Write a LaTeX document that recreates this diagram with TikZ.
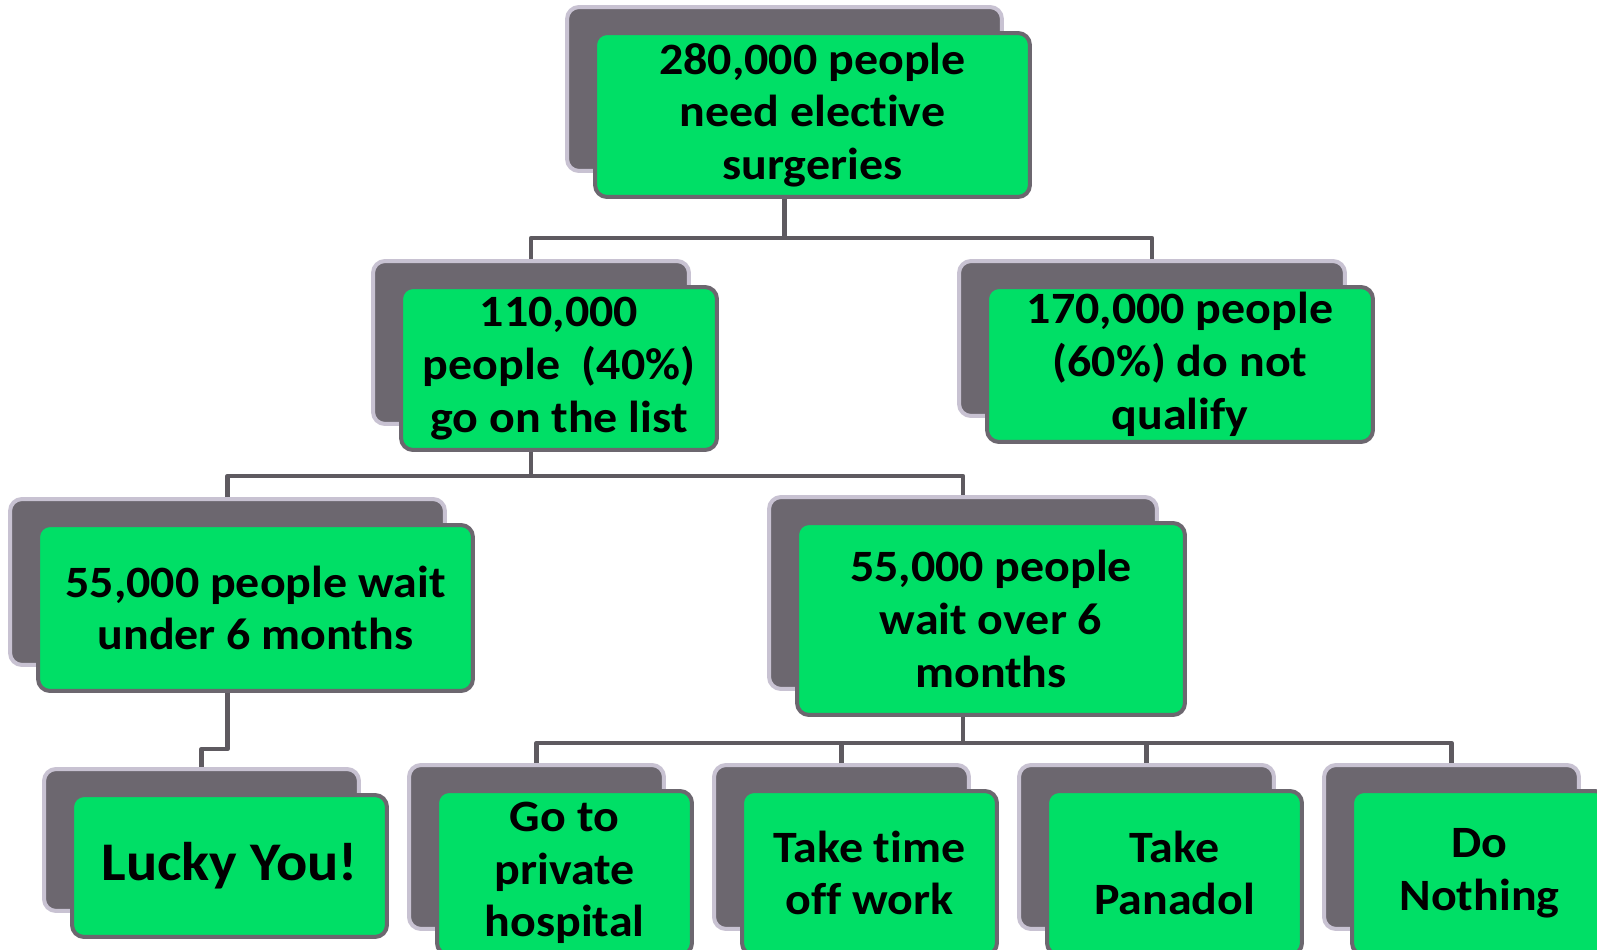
\documentclass[tikz,border=0pt]{standalone}
\usepackage{fontspec}
\setmainfont{Carlito}[FakeStretch=1.07, Ligatures=NoCommon]
\usepackage{tikz}
\usetikzlibrary{positioning}
\definecolor{boxgreen}{RGB}{0,223,102}
\definecolor{shadegray}{RGB}{108,103,111}
\definecolor{shadeedge}{RGB}{200,194,210}
\definecolor{linkgray}{RGB}{94,90,96}

\begin{document}
\begin{tikzpicture}[x=0.02cm, y=-0.02cm,
        backbox/.style={draw=shadeedge, fill=shadegray, line width=0.08cm, rounded corners=0.24cm, inner sep=0pt},
        frontbox/.style={draw=shadegray, fill=boxgreen, line width=0.08cm, rounded corners=0.24cm, inner sep=0pt, align=center,
          font=\fontsize{25.5pt}{30pt}\selectfont\bfseries},
        link/.style={draw=linkgray, line width=0.09cm, line join=round}
      ]
      \useasboundingbox (0,0) rectangle (1597,950);

      % level 1
      \node[backbox, minimum width=8.7cm, minimum height=3.28cm] (topsh) at (784.5,89) {};
      \node[frontbox, minimum width=8.7cm, minimum height=3.28cm] (top) at ([shift={(28,26)}]topsh.center) {280,000 people\\need elective\\surgeries};

      % level 2
      \node[backbox, minimum width=6.32cm, minimum height=3.26cm] (listsh) at (531,342.5) {};
      \node[frontbox, minimum width=6.32cm, minimum height=3.26cm] (list) at ([shift={(28,26)}]listsh.center) {110,000\\people~~(40\%)\\go on the list};
      \node[backbox, minimum width=7.72cm, minimum height=3.1cm] (noqualsh) at (1152,338.5) {};
      \node[frontbox, minimum width=7.72cm, minimum height=3.1cm] (noqual) at ([shift={(28,26)}]noqualsh.center) {170,000 people\\(60\%) do not\\qualify};

      % level 3
      \node[backbox, minimum width=8.7cm, minimum height=3.32cm] (undersh) at (227.5,582) {};
      \node[frontbox, minimum width=8.7cm, minimum height=3.32cm] (under) at ([shift={(28,26)}]undersh.center) {55,000 people wait\\under 6 months};
      \node[backbox, minimum width=7.76cm, minimum height=3.84cm] (oversh) at (963,593) {};
      \node[frontbox, minimum width=7.76cm, minimum height=3.84cm] (over) at ([shift={(28,26)}]oversh.center) {55,000 people\\wait over 6\\months};

      % level 4
      \node[backbox, minimum width=6.3cm, minimum height=2.84cm] (luckysh) at (201.5,840) {};
      \node[frontbox, minimum width=6.3cm, minimum height=2.84cm, font=\fontsize{31pt}{36pt}\selectfont\bfseries] (lucky) at ([shift={(28,26)}]luckysh.center) {Lucky You!};
      \node[backbox, minimum width=5.1cm, minimum height=3.28cm] (privsh) at (536.5,847) {};
      \node[frontbox, minimum width=5.1cm, minimum height=3.28cm] (priv) at ([shift={(28,26)}]privsh.center) {Go to\\private\\hospital};
      \node[backbox, minimum width=5.1cm, minimum height=3.28cm] (timeoffsh) at (841.5,847) {};
      \node[frontbox, minimum width=5.1cm, minimum height=3.28cm] (timeoff) at ([shift={(28,26)}]timeoffsh.center) {Take time\\off work};
      \node[backbox, minimum width=5.1cm, minimum height=3.28cm] (panadolsh) at (1146.5,847) {};
      \node[frontbox, minimum width=5.1cm, minimum height=3.28cm] (panadol) at ([shift={(28,26)}]panadolsh.center) {Take\\Panadol};
      \node[backbox, minimum width=5.1cm, minimum height=3.28cm] (nothingsh) at (1451.5,847) {};
      \node[frontbox, minimum width=5.1cm, minimum height=3.28cm] (nothing) at ([shift={(28,26)}]nothingsh.center) {Do\\Nothing};

      % connectors
      \coordinate (bus1) at (0,238);
      \coordinate (bus2) at (0,476);
      \coordinate (bus3) at (0,743);
      \coordinate (jog) at (0,749);

      \draw[link] (topsh.south |- top.south) -- (topsh.south |- bus1);
      \draw[link] (listsh.north) -- (listsh.north |- bus1) -- (noqualsh.north |- bus1) -- (noqualsh.north);

      \draw[link] (listsh.south |- list.south) -- (listsh.south |- bus2);
      \draw[link] (undersh.north) -- (undersh.north |- bus2) -- (oversh.north |- bus2) -- (oversh.north);

      \draw[link] (undersh.south |- under.south) -- (undersh.south |- jog) -- (luckysh.north |- jog) -- (luckysh.north);

      \draw[link] (oversh.south |- over.south) -- (oversh.south |- bus3);
      \draw[link] (privsh.north) -- (privsh.north |- bus3) -- (nothingsh.north |- bus3) -- (nothingsh.north);
      \draw[link] (timeoffsh.north) -- (timeoffsh.north |- bus3);
      \draw[link] (panadolsh.north) -- (panadolsh.north |- bus3);
    \end{tikzpicture}
\end{document}
